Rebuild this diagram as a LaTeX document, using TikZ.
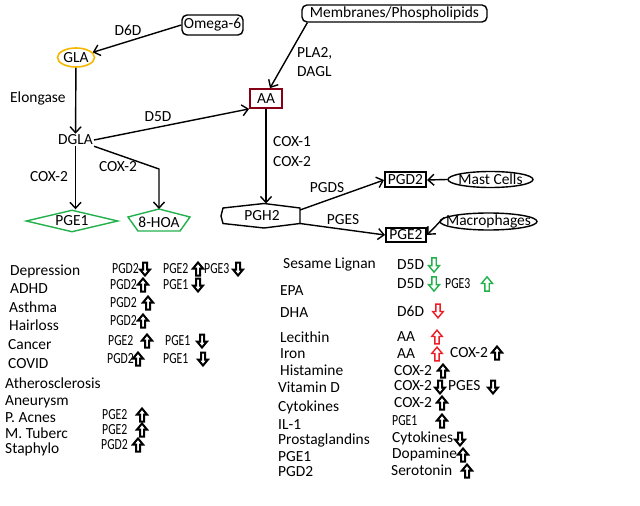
\documentclass[tikz,border=0pt]{standalone}
\usepackage{fontspec}
\setmainfont{Carlito}
\usetikzlibrary{arrows.meta,shapes.geometric}
\definecolor{pgreen}{HTML}{22B14C}
\definecolor{pred}{HTML}{ED1C24}
\definecolor{pgold}{HTML}{F5B800}
\definecolor{pdark}{HTML}{880015}
\newcommand\condtxt[1]{\scalebox{0.76}[1]{#1}}
\begin{document}
\begin{tikzpicture}[x=1bp,y=-1bp,
  every node/.style={font=\fontsize{15.5}{18}\selectfont, inner sep=1bp},
  conn/.style={line width=1.4bp, -{Straight Barb[length=6bp,width=11bp]}},
  item/.style={anchor=west, inner sep=0bp},
  shapeline/.style={line width=1.4bp},
  bup/.pic={\draw[pic actions, line join=miter] (0,-6.5) -- (5,-0.5) -- (2,-0.5) -- (2,6.5) -- (-2,6.5) -- (-2,-0.5) -- (-5,-0.5) -- cycle;},
  bdown/.pic={\draw[pic actions, line join=miter] (0,6.5) -- (5,0.5) -- (2,0.5) -- (2,-6.5) -- (-2,-6.5) -- (-2,0.5) -- (-5,0.5) -- cycle;},
  blk/.style={draw=black, line width=2bp},
  grn/.style={draw=pgreen, line width=1.4bp, scale=1.1},
  rd/.style={draw=pred, line width=1.4bp, scale=1.05},
]
\useasboundingbox[fill=white] (0,0) rectangle (640,506);

% ---------- pathway nodes ----------
\node[draw, rounded corners=5bp, line width=1.4bp, minimum width=61bp, minimum height=20bp, inner sep=0bp] (omega) at (212.5,25) {Omega-6};
\node[draw, rounded corners=5bp, line width=1.4bp, minimum width=185bp, minimum height=17bp, inner sep=0bp] (mem) at (394.5,13.5) {Membranes/Phospholipids};
\node[draw=pgold, ellipse, line width=1.6bp, minimum width=37bp, minimum height=19bp, inner sep=0bp] (gla) at (76,57.5) {GLA};
\node[draw=pdark, line width=1.8bp, minimum width=32bp, minimum height=19bp, inner sep=0bp] (aa) at (266,98.5) {AA};
\node (dgla) at (75.5,140) {DGLA};
\node[draw=pgreen, diamond, line width=1.4bp, minimum width=92bp, minimum height=22bp, inner sep=0bp, aspect=4.2] (pge1) at (72,221) {PGE1};

\node (hoa) at (159,222) {8-HOA};
\draw[pgreen, shapeline] (159,209) -- (190,217) -- (180,231) -- (138,231) -- (128,217) -- cycle;
\coordinate (hoatop) at (159,209);
\coordinate (hoabend) at (159,169);

\node (pgh2) at (262,216) {PGH2};
\draw[shapeline] (223,208) -- (264,203.5) -- (300,208) -- (300,223.5) -- (264,228) -- (223,223.5) -- (221,216) -- cycle;
\coordinate (pgh2top) at (264,203.5);
\coordinate (pgh2ne) at (300,210);
\coordinate (pgh2se) at (300,223.5);

\node[draw, line width=2bp, minimum width=41bp, minimum height=15bp, inner sep=0bp] (pgd2) at (405.5,180) {PGD2};
\node[draw, line width=2bp, minimum width=40bp, minimum height=14bp, inner sep=0bp] (pge2) at (406,235) {PGE2};
\node[draw, ellipse, line width=1.4bp, minimum width=85bp, minimum height=16bp, inner sep=-6bp] (mast) at (490.5,179.5) {Mast Cells};
\node[draw, ellipse, line width=1.4bp, minimum width=97bp, minimum height=17bp, inner sep=-10bp] (mac) at (488.5,221.5) {Macrophages};

% ---------- connectors ----------
\draw[conn] (omega.west) -- (gla);
\draw[conn] (mem.south west) ++(6,0) -- ([xshift=4bp]aa.north);
\draw[conn] (gla) -- (dgla);
\draw[conn] (dgla.east) -- (aa.south west);
\draw[conn] (dgla.south) -- (dgla.south |- pge1.north);
\draw[conn] (dgla.south east) -- (hoabend) -- (hoatop);
\draw[conn] (aa.south) -- (aa.south |- pgh2top);
\draw[conn] (pgh2ne) -- (pgd2.west);
\draw[conn] (pgh2se) -- (pge2.west);
\draw[conn] (mast.west) -- (pgd2.east);
\draw[conn] (mac.175) -- (pge2.east);

% ---------- connector labels ----------
\node (l6d) at (128,30) {D6D};
\node[item] (lpla) at (297,53) {PLA2,};
\node[item] (ldagl) at (297,72) {DAGL};
\node[item] (lelo) at (10,98) {Elongase};
\node (l5d) at (158,117) {D5D};
\node (lcoxa) at (49,177) {COX-2};
\node (lcoxb) at (118,167) {COX-2};
\node[item] (lcox1) at (273,142) {COX-1};
\node[item] (lcox2) at (273,162) {COX-2};
\node (lpgds) at (327,188) {PGDS};
\node (lpges) at (343,220) {PGES};

% ---------- left list ----------
\node[item] (dep) at (10,271) {Depression};
\node[item] (adhd) at (10,289) {ADHD};
\node[item] (asth) at (9,307) {Asthma};
\node[item] (hair) at (9,325) {Hairloss};
\node[item] (canc) at (8,345) {Cancer};
\node[item] (covid) at (8,364) {COVID};
\node[item] (ather) at (5,383) {Atherosclerosis};
\node[item] (aneu) at (5,402) {Aneurysm};
\node[item] (pacn) at (5,418) {P. Acnes};
\node[item] (mtub) at (5,433) {M. Tuberc};
\node[item] (staph) at (5,449) {Staphylo};

\node[item] (e1a) at (112,269) {\condtxt{PGD2}};  \pic[blk] at (145,269) {bdown};
\node[item] (e1b) at (163,269) {\condtxt{PGE2}};  \pic[blk] at (198,269) {bup};
\node[item] (e1c) at (204,269) {\condtxt{PGE3}};  \pic[blk] at (238,269) {bdown};
\node[item] (e2a) at (110,285) {\condtxt{PGD2}};  \pic[blk] at (143,285) {bup};
\node[item] (e2b) at (163,285) {\condtxt{PGE1}};  \pic[blk] at (198,285) {bdown};
\node[item] (e3a) at (110,303) {\condtxt{PGD2}};  \pic[blk] at (148,303) {bup};
\node[item] (e4a) at (110,321) {\condtxt{PGD2}};  \pic[blk] at (143,321) {bup};
\node[item] (e5a) at (108,341) {\condtxt{PGE2}};  \pic[blk] at (147,341) {bup};
\node[item] (e5b) at (165,341) {\condtxt{PGE1}};  \pic[blk] at (202,341) {bdown};
\node[item] (e6a) at (107,359) {\condtxt{PGD2}};  \pic[blk] at (138,359) {bup};
\node[item] (e6b) at (163,359) {\condtxt{PGE1}};  \pic[blk] at (203,359) {bdown};
\node[item] (e7a) at (102,415) {\condtxt{PGE2}};  \pic[blk] at (142,415) {bup};
\node[item] (e8a) at (102,430) {\condtxt{PGE2}};  \pic[blk] at (142,430) {bup};
\node[item] (e9a) at (101,445) {\condtxt{PGD2}};  \pic[blk] at (138,445) {bup};

% ---------- right list ----------
\node[item] (ses) at (283,265) {Sesame Lignan};
\node[item] (epa) at (280,291) {EPA};
\node[item] (dha) at (280,313) {DHA};
\node[item] (lec) at (280,337) {Lecithin};
\node[item] (iron) at (280,354) {Iron};
\node[item] (hist) at (280,370) {Histamine};
\node[item] (vitd) at (278,387) {Vitamin D};
\node[item] (cyto) at (278,407) {Cytokines};
\node[item] (il1) at (278,425) {IL-1};
\node[item] (prost) at (278,440) {Prostaglandins};
\node[item] (rpge1) at (278,457) {PGE1};
\node[item] (rpgd2) at (278,472) {PGD2};

\node[item] (f1a) at (397,265) {D5D};       \pic[grn] at (434,265) {bdown};
\node[item] (f2a) at (397,284) {D5D};       \pic[grn] at (434,284) {bdown};
\node[item] (f2b) at (445,284) {\condtxt{PGE3}}; \pic[grn] at (487,284) {bup};
\node[item] (f3a) at (397,311) {D6D};       \pic[rd] at (438,311) {bdown};
\node[item] (f4a) at (397,337) {AA};        \pic[rd] at (437,337) {bup};
\node[item] (f5a) at (397,354) {AA};        \pic[rd] at (437,354) {bup};
\node[item] (f5b) at (450,353) {COX-2};     \pic[blk] at (497,353) {bup};
\node[item] (f6a) at (394,371) {COX-2};     \pic[blk] at (443,371) {bup};
\node[item] (f7a) at (394,386) {COX-2};     \pic[blk] at (440,387) {bdown};
\node[item] (f7b) at (448,386) {PGES};      \pic[blk] at (493,387) {bdown};
\node[item] (f8a) at (394,403) {COX-2};     \pic[blk] at (442,403) {bup};
\node[item] (f9a) at (392,421) {\condtxt{PGE1}}; \pic[blk] at (442,421) {bup};
\node[item] (f10a) at (392,438) {Cytokines}; \pic[blk] at (460,439) {bdown};
\node[item] (f11a) at (392,454) {Dopamine};  \pic[blk] at (463,455) {bup};
\node[item] (f12a) at (391,470) {Serotonin}; \pic[blk] at (467,471) {bup};
\end{tikzpicture}
\end{document}
